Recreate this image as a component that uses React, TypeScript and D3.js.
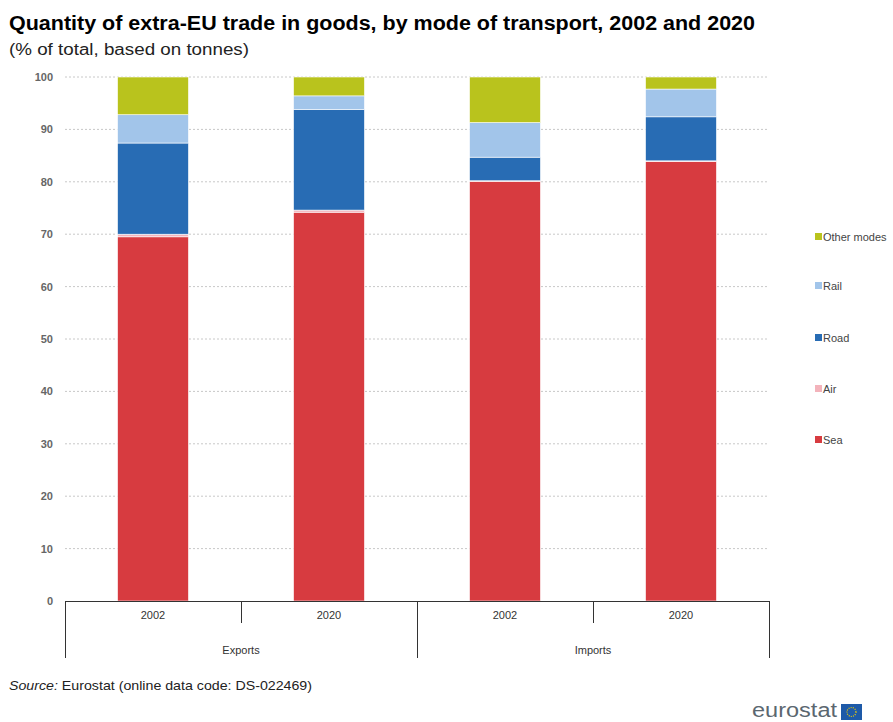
import React from "react";
import * as d3 from "d3";

const categories = ["2002", "2020", "2002", "2020"];
const groups = ["Exports", "Imports"];
const seriesNames = ["Sea", "Air", "Road", "Rail", "Other modes"];
const sea = [69.5, 74.2, 80.1, 83.9];
const air = [0.5, 0.4, 0.1, 0.1];
const road = [17.4, 19.2, 4.5, 8.4];
const rail = [5.4, 2.6, 6.6, 5.3];
const other = [7.2, 3.6, 8.7, 2.3];
const yTicks = [0, 10, 20, 30, 40, 50, 60, 70, 80, 90, 100];
const colors = ["#d73b40", "#f3b3bb", "#286cb4", "#a2c5ea", "#b9c31d"];

const W = 893;
const H = 722;
const left = 65;
const right = 769;
const top = 77;
const bottom = 601;
const FONT = "Liberation Sans, Arial, sans-serif";

export default function App() {
  const keys = seriesNames;
  const rows = categories.map((c, i) => ({
    idx: i,
    Sea: sea[i],
    Air: air[i],
    Road: road[i],
    Rail: rail[i],
    "Other modes": other[i],
  }));
  const stacked = d3.stack<any>().keys(keys)(rows);
  const x = d3
    .scaleBand<number>()
    .domain(d3.range(categories.length))
    .range([left, right])
    .paddingInner(0.597)
    .paddingOuter(0.2985);
  const band = d3.scaleBand<number>().domain(d3.range(categories.length)).range([left, right]);
  const y = d3.scaleLinear().domain([0, 100]).range([bottom, top]);
  const groupW = (right - left) / groups.length;
  const legendY = [440, 389, 338, 286, 237];

  return (
    <svg
      width={W}
      height={H}
      style={{ position: "absolute", left: 0, top: 0, background: "#fff" }}
      fontFamily={FONT}
    >
      <text
        x={9}
        y={30}
        fontSize={20}
        fontWeight="bold"
        fill="#000"
        textLength={746}
        lengthAdjust="spacingAndGlyphs"
      >
        Quantity of extra-EU trade in goods, by mode of transport, 2002 and 2020
      </text>
      <text x={9} y={55} fontSize={16} fill="#222" textLength={240} lengthAdjust="spacingAndGlyphs">
        (% of total, based on tonnes)
      </text>

      {yTicks.map((t) => (
        <g key={t}>
          {t > 0 && (
            <line
              x1={left}
              x2={right}
              y1={y(t)}
              y2={y(t)}
              stroke="#c8c8c8"
              strokeDasharray="2,2"
              strokeWidth={1}
            />
          )}
          <text
            x={53}
            y={y(t) + 4}
            textAnchor="end"
            fontSize={11}
            fontWeight="bold"
            fill="#666"
          >
            {t}
          </text>
        </g>
      ))}

      {stacked.map((s, si) => (
        <g key={s.key} fill={colors[si]}>
          {s.map((d, i) => (
            <rect
              key={i}
              x={x(i)}
              width={x.bandwidth()}
              y={y(d[1])}
              height={Math.max(0, y(d[0]) - y(d[1]))}
              stroke="#fff"
              strokeWidth={0.6}
            />
          ))}
        </g>
      ))}

      <line x1={left} x2={right} y1={bottom + 0.5} y2={bottom + 0.5} stroke="#333" />
      {categories.map((c, i) => (
        <g key={i}>
          <text
            x={(band(i) as number) + band.bandwidth() / 2}
            y={619}
            textAnchor="middle"
            fontSize={11}
            fill="#333"
          >
            {c}
          </text>
          {i % 2 === 1 && (
            <line
              x1={(band(i) as number) + 0.5}
              x2={(band(i) as number) + 0.5}
              y1={bottom}
              y2={623}
              stroke="#333"
            />
          )}
        </g>
      ))}
      {d3.range(groups.length + 1).map((g) => (
        <line
          key={g}
          x1={left + g * groupW + 0.5}
          x2={left + g * groupW + 0.5}
          y1={bottom}
          y2={658}
          stroke="#333"
        />
      ))}
      {groups.map((g, i) => (
        <text
          key={g}
          x={left + i * groupW + groupW / 2}
          y={654}
          textAnchor="middle"
          fontSize={11}
          fill="#333"
        >
          {g}
        </text>
      ))}

      {seriesNames.map((n, i) => (
        <g key={n}>
          <rect x={815} y={legendY[i] - 4} width={7} height={7} fill={colors[i]} />
          <text x={823} y={legendY[i] + 4} fontSize={11} fill="#444">
            {n}
          </text>
        </g>
      ))}

      <text x={9} y={690} fontSize={13.5} fill="#222" textLength={303} lengthAdjust="spacingAndGlyphs">
        <tspan fontStyle="italic">Source:</tspan>
        <tspan> Eurostat (online data code: DS-022469)</tspan>
      </text>

      <text x={752} y={717} fontSize={20} fill="#5b6770" textLength={85} lengthAdjust="spacingAndGlyphs">
        eurostat
      </text>
      <rect x={841} y={704} width={21} height={16} fill="#1e5aa8" />
      <circle cx={851.5} cy={712} r={4.5} fill="none" stroke="#f5d000" strokeWidth={1.2} strokeDasharray="1,1.2" />
    </svg>
  );
}
